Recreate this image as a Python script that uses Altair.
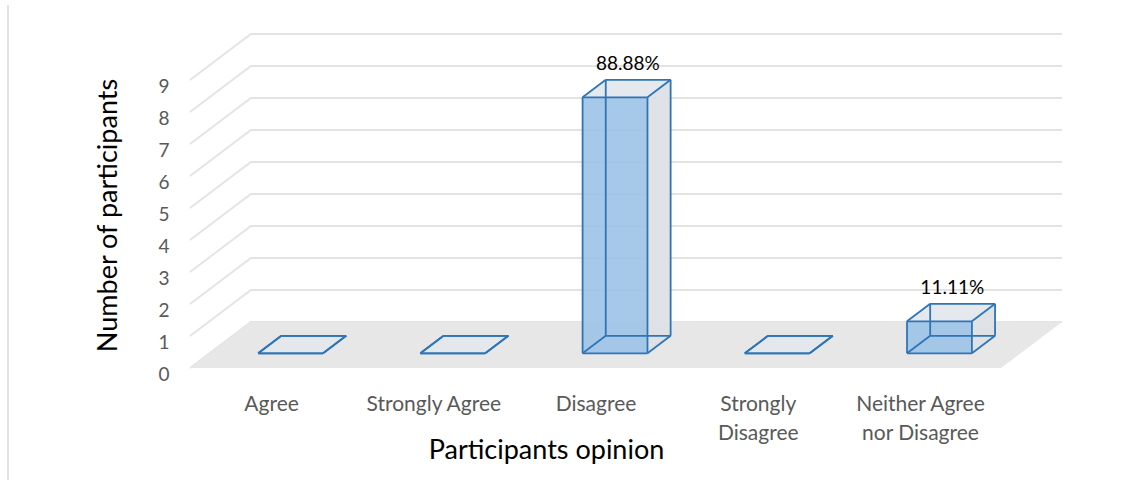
import altair as alt
import pandas as pd

# ---- data -------------------------------------------------------------
categories = ["Agree", "Strongly Agree", "Disagree", "Strongly Disagree",
              "Neither Agree nor Disagree"]
counts = [0, 0, 8, 0, 1]
pct_labels = ["", "", "88.88%", "", "11.11%"]
tick_lines = [["Agree"], ["Strongly Agree"], ["Disagree"],
              ["Strongly", "Disagree"], ["Neither Agree", "nor Disagree"]]
y_ticks = [0, 1, 2, 3, 4, 5, 6, 7, 8, 9]

# ---- oblique 3-D projection (in scale units) ---------------------------
DX = 0.3756      # depth shift along x, in category slots
DY = 1.4375      # depth shift along y, in value units
HALF_W = 0.2     # half bar width (slot units)
D0, D1 = 0.32, 0.70   # bar front / back depth fractions
N = len(categories)

X_DOMAIN = [0, N + DX]
Y_DOMAIN = [0, max(y_ticks) + DY]

FONT = "Lato"
EDGE = "#2e75b6"


def P(sx, d, v):
    return sx + d * DX, v + d * DY


# gridlines: front-left start, sloped back, then along back wall
grid_rows = []
for v in y_ticks:
    for k, (sx, d) in enumerate([(0, 0), (0, 1), (N, 1)]):
        x, y = P(sx, d, v)
        grid_rows.append({"v": v, "k": k, "x": x, "y": y})
grid_df = pd.DataFrame(grid_rows)

# floor parallelogram
floor_df = pd.DataFrame([
    {"y": 0.0, "x": 0.0, "x2": float(N)},
    {"y": DY, "x": DX, "x2": N + DX},
])

side_rows, top_rows, front_rows, edge_rows, lab_rows = [], [], [], [], []
for i, (c, v) in enumerate(zip(categories, counts)):
    s0 = i + 0.5 - HALF_W
    s1 = i + 0.5 + HALF_W
    # right side face
    for d in (D0, D1):
        x, yb = P(s1, d, 0)
        _, yt = P(s1, d, v)
        side_rows.append({"cat": c, "x": x, "y": yb, "y2": yt})
    # top face
    for d in (D0, D1):
        xl, y = P(s0, d, v)
        xr, _ = P(s1, d, v)
        top_rows.append({"cat": c, "y": y, "x": xl, "x2": xr})
    # front face
    xl, yb = P(s0, D0, 0)
    xr, yt = P(s1, D0, v)
    front_rows.append({"cat": c, "x": xl, "x2": xr, "y": yb, "y2": yt})
    # twelve box edges
    corners = {}
    for a, sx in (("l", s0), ("r", s1)):
        for b, d in (("f", D0), ("b", D1)):
            for h, vv in (("0", 0), ("1", v)):
                corners[a + b + h] = P(sx, d, vv)
    pairs = []
    for b in "fb":
        pairs += [("l" + b + "0", "r" + b + "0"), ("l" + b + "1", "r" + b + "1"),
                  ("l" + b + "0", "l" + b + "1"), ("r" + b + "0", "r" + b + "1")]
    for a in "lr":
        for h in "01":
            pairs.append((a + "f" + h, a + "b" + h))
    for p, q in pairs:
        (x1, y1), (x2, y2) = corners[p], corners[q]
        edge_rows.append({"cat": c, "x": x1, "y": y1, "x2": x2, "y2": y2})
    if pct_labels[i]:
        x, _ = P(i + 0.5, (D0 + D1) / 2 + 0.02, v)
        _, y = P(i + 0.5, D1, v)
        lab_rows.append({"x": x, "y": y, "t": pct_labels[i]})

side_df = pd.DataFrame(side_rows)
top_df = pd.DataFrame(top_rows)
front_df = pd.DataFrame(front_rows)
edge_df = pd.DataFrame(edge_rows)
lab_df = pd.DataFrame(lab_rows)

xs = alt.Scale(domain=X_DOMAIN, nice=False, zero=False)
ys = alt.Scale(domain=Y_DOMAIN, nice=False, zero=False)

label_expr = "[" + ",".join(
    "[" + ",".join("'" + s + "'" for s in lines) + "]" for lines in tick_lines
) + "][floor(datum.value)]"

x_axis = alt.Axis(
    values=[i + 0.5 for i in range(N)], labelExpr=label_expr,
    domain=False, ticks=False, grid=False, labelOverlap=False,
    labelFont=FONT, labelFontSize=21, labelColor="#595959",
    labelPadding=25, labelLineHeight=29,
    title="Participants opinion", titleFont=FONT, titleFontSize=27,
    titleFontWeight="normal", titleColor="#000000",
    titleX=356, titleY=82, titleAlign="center", titleBaseline="middle",
)
y_axis = alt.Axis(
    values=y_ticks, domain=False, ticks=False, grid=False,
    labelFont=FONT, labelFontSize=19, labelColor="#595959",
    labelPadding=21, labelOffset=6,
    title="Number of participants", titleFont=FONT, titleFontSize=27,
    titleFontWeight="normal", titleColor="#000000",
    titleAngle=270, titleX=-82, titleY=181,
    titleAlign="center", titleBaseline="middle",
)


def X(field):
    return alt.X(field, type="quantitative", scale=xs, axis=x_axis)


def Y(field):
    return alt.Y(field, type="quantitative", scale=ys, axis=y_axis)


grid = alt.Chart(grid_df).mark_line(color="#e3e3e3", strokeWidth=1.8).encode(
    x=X("x"), y=Y("y"), detail="v:N", order="k:Q",
)

floor = alt.Chart(floor_df).mark_area(orient="horizontal", color="#e7e7e7").encode(
    y=Y("y"), x=X("x"), x2="x2:Q",
)

side = alt.Chart(side_df).mark_area(orient="vertical", color="#dde1e6", opacity=0.95).encode(
    x=X("x"), y=Y("y"), y2="y2:Q", detail="cat:N",
)

top = alt.Chart(top_df).mark_area(orient="horizontal", color="#e4e8ed", opacity=0.95).encode(
    y=Y("y"), x=X("x"), x2="x2:Q", detail="cat:N",
)

front = alt.Chart(front_df).mark_rect(color="#9cc3e8", opacity=0.9).encode(
    x=X("x"), x2="x2:Q", y=Y("y"), y2="y2:Q",
)

edges = alt.Chart(edge_df).mark_rule(color=EDGE, strokeWidth=1.8).encode(
    x=X("x"), y=Y("y"), x2="x2:Q", y2="y2:Q",
)

labels = alt.Chart(lab_df).mark_text(
    font=FONT, fontSize=19, color="#000000", dy=-16, baseline="middle"
).encode(
    x=X("x"), y=Y("y"), text="t:N",
)

# chart-area frame on the left side
frame = alt.Chart(pd.DataFrame({"a": [0]})).mark_rule(
    color="#d9d9d9", strokeWidth=1.5
).encode(x=alt.value(-182), y=alt.value(-29), y2=alt.value(446))

chart = alt.layer(grid, floor, side, top, front, edges, labels, frame).properties(
    width=872, height=334,
    autosize=alt.AutoSizeParams(type="none"),
    padding={"left": 190, "top": 34, "right": 76, "bottom": 121},
    background="white",
).configure_view(stroke=None)

chart.save("out.html", embed_options={"renderer": "svg", "actions": False})
